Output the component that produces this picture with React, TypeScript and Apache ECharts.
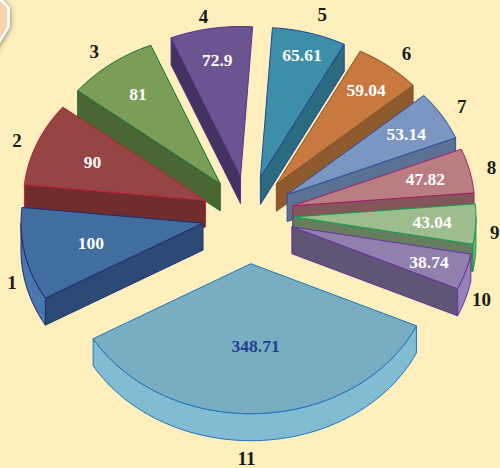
import React, { useEffect, useRef } from "react";
import * as echarts from "echarts";

const names = ["1", "2", "3", "4", "5", "6", "7", "8", "9", "10", "11"];
const values = [100, 90, 81, 72.9, 65.61, 59.04, 53.14, 47.82, 43.04, 38.74, 348.71];
const valueLabels = ["100", "90", "81", "72.9", "65.61", "59.04", "53.14", "47.82", "43.04", "38.74", "348.71"];

// painter's order, back to front
const drawOrder = [3, 4, 2, 5, 1, 6, 7, 8, 9, 0, 10];

// styling
const topColors = ["#416D9F", "#964545", "#7A9E57", "#6B5590", "#3D8EA7", "#C8793F", "#7B97C1", "#BA7E82", "#9EBC8C", "#9080AE", "#79AEC2"];
const wallColors = ["#2C4A75", "#6F2D2E", "#4A6632", "#423260", "#2A6B80", "#8F5A2D", "#5B7294", "#845659", "#667E5E", "#5F5574", "#79AEC2"];
const rimColors = ["#4A78AE", "#964545", "#7A9E57", "#6B5590", "#3D8EA7", "#C8793F", "#7B97C1", "#BA7E82", "#7FAE7A", "#9681B8", "#82BCD3"];
const strokeColors = ["#1F2A6E", "#C01F37", "#1B7040", "#5A2E94", "#24419A", "#7F5427", "#2B4E9E", "#A21F6B", "#0E9E50", "#6B2FA0", "#1976BE"];
const valueLabelColors = ["#fff", "#fff", "#fff", "#fff", "#fff", "#fff", "#fff", "#fff", "#fff", "#fff", "#24408F"];
const explodeScale = [1, 1, 1, 1, 1, 1, 1, 1, 1, 1, 1.25];
const valueLabelFraction = [0.63, 0.67, 0.75, 0.79, 0.85, 0.8, 0.77, 0.75, 0.76, 0.79, 0.55];
const nameLabelOffset = [[-13, 28], [-20, -3], [-16.5, -13], [-7.5, -12], [13, -18], [18, -13], [20, -9], [22, -3], [19, 8], [16, 28], [-13, 45]];

const FONT = '"Liberation Serif", "Times New Roman", serif';
const CX = 248, CY = 215, RX = 182, RY = 150, DEPTH = 27, EX = 46, EY = 39;
const START_ANGLE = 240;

const rad = (d: number) => (d * Math.PI) / 180;
const total = values.reduce((a, b) => a + b, 0);

function sliceAngles(i: number) {
  const before = values.slice(0, i).reduce((a, b) => a + b, 0);
  const t0 = START_ANGLE + (before / total) * 360;
  const t1 = t0 + (values[i] / total) * 360;
  return [t0, t1];
}

const onRim = (ax: number, ay: number, t: number, f = 1) => [
  ax + f * RX * Math.sin(rad(t)),
  ay - f * RY * Math.cos(rad(t)),
];

function arcPoints(ax: number, ay: number, a: number, b: number, dy = 0) {
  const n = Math.max(2, Math.ceil(Math.abs(b - a) / 2));
  const pts: number[][] = [];
  for (let k = 0; k <= n; k++) {
    const p = onRim(ax, ay, a + ((b - a) * k) / n);
    pts.push([p[0], p[1] + dy]);
  }
  return pts;
}

function renderSlice(_params: any, api: any) {
  const i = api.value(0) as number;
  const [t0, t1] = sliceAngles(i);
  const mid = (t0 + t1) / 2;
  const ax = CX + EX * explodeScale[i] * Math.sin(rad(mid));
  const ay = CY - EY * explodeScale[i] * Math.cos(rad(mid));
  const line = { stroke: strokeColors[i], lineWidth: 1, lineJoin: "round" };
  const children: any[] = [];

  const wall = (t: number) => {
    const p = onRim(ax, ay, t);
    children.push({
      type: "polygon",
      shape: { points: [[ax, ay], p, [p[0], p[1] + DEPTH], [ax, ay + DEPTH]] },
      style: { fill: wallColors[i], ...line },
    });
  };

  const norm0 = ((t0 % 360) + 360) % 360;
  const norm1 = ((t1 % 360) + 360) % 360;
  if (norm0 > 180 && norm0 < 360) wall(t0);
  if (norm1 > 10 && norm1 < 180) wall(t1);

  // visible part of the outer rim: lower half of the ellipse
  const visible: number[][] = [];
  for (const off of [0, 360]) {
    const a = Math.max(t0, 90 + off);
    const b = Math.min(t1, 270 + off);
    if (a < b) visible.push([a, b]);
  }
  visible.forEach(([a, b]) => {
    const top = arcPoints(ax, ay, a, b);
    const bottom = arcPoints(ax, ay, b, a, DEPTH);
    children.push({
      type: "polygon",
      shape: { points: [...top, ...bottom] },
      style: { fill: rimColors[i], ...line },
    });
  });

  // top face
  children.push({
    type: "polygon",
    shape: { points: [[ax, ay], ...arcPoints(ax, ay, t0, t1)] },
    style: { fill: topColors[i], ...line },
  });

  const [vx, vy] = onRim(ax, ay, mid, valueLabelFraction[i]);
  children.push({
    type: "text",
    style: {
      text: valueLabels[i],
      x: vx,
      y: vy,
      fill: valueLabelColors[i],
      font: `bold 17.5px ${FONT}`,
      align: "center",
      verticalAlign: "middle",
    },
  });

  const [ox, oy] = onRim(ax, ay, mid);
  children.push({
    type: "text",
    style: {
      text: names[i],
      x: ox + nameLabelOffset[i][0],
      y: oy + nameLabelOffset[i][1],
      fill: "#1A1A1A",
      font: `bold 19px ${FONT}`,
      align: "center",
      verticalAlign: "middle",
    },
  });

  return { type: "group", children };
}

export default function App() {
  const ref = useRef<HTMLDivElement>(null);
  useEffect(() => {
    const chart = echarts.init(ref.current!, undefined, { renderer: "svg" });
    chart.setOption({
      animation: false,
      backgroundColor: "#FEEFBD",
      graphic: [
        {
          type: "polygon",
          shape: { points: [[-12, -14], [8.5, 8], [8.5, 27], [-12, 60]] },
          style: {
            fill: "#F8D2AC",
            stroke: "#FFFFFF",
            lineWidth: 2.5,
            shadowBlur: 5,
            shadowColor: "rgba(90,80,60,0.6)",
            shadowOffsetX: 1,
            shadowOffsetY: 1,
          },
          z: 0,
        },
      ],
      series: [
        {
          type: "custom",
          coordinateSystem: "none",
          silent: true,
          z: 2,
          data: drawOrder.map((i) => [i, values[i]]),
          renderItem: renderSlice,
        },
      ],
    });
    return () => chart.dispose();
  }, []);
  return <div ref={ref} style={{ position: "fixed", left: 0, top: 0, width: 500, height: 468 }} />;
}
